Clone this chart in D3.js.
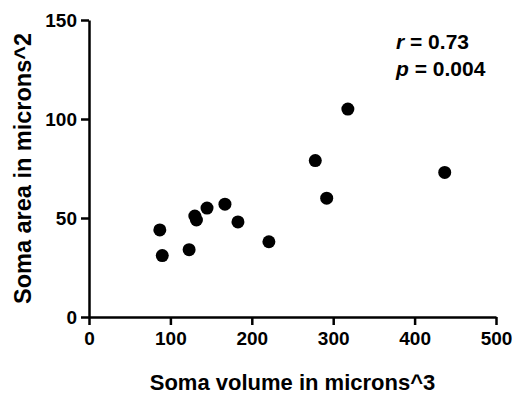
<!DOCTYPE html>
<html>
<head>
<meta charset="utf-8">
<script src="https://cdn.jsdelivr.net/npm/d3@7"></script>
<style>
  body { margin: 0; background: #fff; }
  text { font-family: Arial, "Liberation Sans", sans-serif; font-weight: bold; }
</style>
</head>
<body>
<svg id="chart" width="514" height="397"></svg>
<script>
// soma volume (microns^3) vs soma area (microns^2)
const volume = [87, 90, 123, 130, 132, 145, 167, 183, 221, 278, 292, 318, 437];
const area = [44, 31, 34, 51, 49, 55, 57, 48, 38, 79, 60, 105, 73];
const xTicks = [0, 100, 200, 300, 400, 500];
const yTicks = [0, 50, 100, 150];

const margin = { top: 20, right: 18, bottom: 80, left: 89 };
const width = 514, height = 397;

const svg = d3.select('#chart');

const x = d3.scaleLinear().domain([0, 500]).range([margin.left, width - margin.right]);
const y = d3.scaleLinear().domain([0, 150]).range([height - margin.bottom, margin.top]);

const xAxis = svg.append('g')
  .attr('transform', `translate(0,${y(0)})`)
  .call(d3.axisBottom(x).tickValues(xTicks).tickSize(8).tickPadding(7).tickSizeOuter(0));

const yAxis = svg.append('g')
  .attr('transform', `translate(${x(0)},0)`)
  .call(d3.axisLeft(y).tickValues(yTicks).tickSize(8).tickPadding(4).tickSizeOuter(0));

[xAxis, yAxis].forEach(g => {
  g.select('.domain').attr('stroke', '#000').attr('stroke-width', 2.5);
  g.selectAll('.tick line').attr('stroke', '#000').attr('stroke-width', 2.5);
  g.selectAll('.tick text').attr('fill', '#000').style('font-size', '19px');
});

// points
svg.append('g')
  .selectAll('circle')
  .data(volume.map((v, i) => ({ v, a: area[i] })))
  .enter()
  .append('circle')
  .attr('cx', d => x(d.v))
  .attr('cy', d => y(d.a))
  .attr('r', 6.5)
  .attr('fill', '#000');

// axis titles
svg.append('text')
  .attr('x', (x(0) + x(500)) / 2)
  .attr('y', 390)
  .attr('text-anchor', 'middle')
  .style('font-size', '22px')
  .text('Soma volume in microns^3');

svg.append('text')
  .attr('transform', `translate(31,${(y(0) + y(150)) / 2}) rotate(-90)`)
  .attr('text-anchor', 'middle')
  .style('font-size', '23.5px')
  .text('Soma area in microns^2');

// stats annotation
const stats = svg.append('g').style('font-size', '21px');
const l1 = stats.append('text').attr('x', 396).attr('y', 49);
l1.append('tspan').style('font-style', 'italic').text('r');
l1.append('tspan').text(' = 0.73');
const l2 = stats.append('text').attr('x', 396).attr('y', 76);
l2.append('tspan').style('font-style', 'italic').text('p');
l2.append('tspan').text(' = 0.004');
</script>
</body>
</html>
